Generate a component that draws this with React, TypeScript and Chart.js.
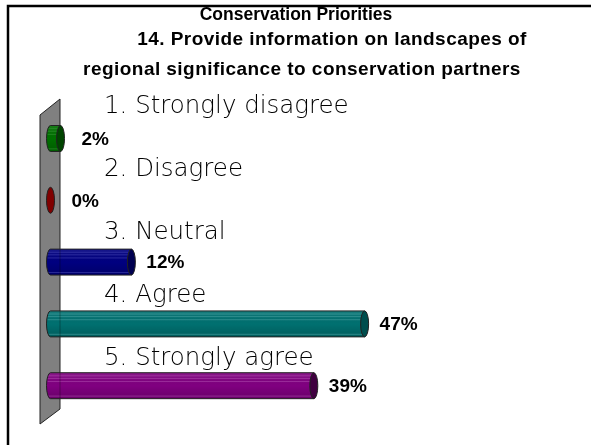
import React, { useEffect, useRef } from "react";
import { Chart, registerables } from "chart.js";

Chart.register(...registerables);

const categories = ["1. Strongly disagree", "2. Disagree", "3. Neutral", "4. Agree", "5. Strongly agree"];
const percentages = [1.5, 0, 12.1, 47, 39.4];
const bodyColors = ["#007000", "#800000", "#000080", "#007070", "#800080"];
const capColors = ["#004400", "#600000", "#000050", "#004e4e", "#400040"];
const shineColors = ["#3a9a3a", "#a03030", "#4a4ab8", "#50a8a8", "#b050b0"];
const titleLines = [
  { text: "Conservation Priorities", x: 296, y: 15, size: 17.5, spacing: 0 },
  { text: "14. Provide information on landscapes of", x: 332, y: 40, size: 19, spacing: 0.45 },
  { text: "regional significance to conservation partners", x: 302, y: 70, size: 19, spacing: 0.45 },
];

const cylinders = {
  id: "cylinders",
  beforeDatasetsDraw(chart: any) {
    const { ctx } = chart;
    ctx.save();
    ctx.strokeStyle = "#000";
    ctx.lineWidth = 2.5;
    ctx.beginPath();
    ctx.moveTo(8, 445);
    ctx.lineTo(8, 6);
    ctx.lineTo(591, 6);
    ctx.stroke();
    ctx.fillStyle = "#808080";
    ctx.strokeStyle = "#222";
    ctx.lineWidth = 1;
    ctx.beginPath();
    ctx.moveTo(40, 115);
    ctx.lineTo(60, 99);
    ctx.lineTo(60, 409);
    ctx.lineTo(40, 424);
    ctx.closePath();
    ctx.fill();
    ctx.stroke();
    ctx.restore();
  },
  afterDatasetsDraw(chart: any) {
    const { ctx } = chart;
    const meta = chart.getDatasetMeta(0);
    ctx.save();
    meta.data.forEach((bar: any, i: number) => {
      const h = bar.height;
      const top = bar.y - h / 2;
      const rx = 4;
      const hasBody = bar.x > bar.base;
      ctx.lineWidth = 1;
      if (hasBody) {
        // whole body outline: rounded back end + straight sides
        const body = () => {
          ctx.beginPath();
          ctx.ellipse(bar.base, bar.y, rx, h / 2, 0, Math.PI / 2, (Math.PI * 3) / 2);
          ctx.lineTo(bar.x, top);
          ctx.lineTo(bar.x, top + h);
          ctx.closePath();
        };
        body();
        ctx.fillStyle = bodyColors[i];
        ctx.fill();
        const g = ctx.createLinearGradient(0, top, 0, top + h);
        g.addColorStop(0, "rgba(255,255,255,0.10)");
        g.addColorStop(0.5, "rgba(0,0,0,0)");
        g.addColorStop(1, "rgba(0,0,0,0.18)");
        ctx.fillStyle = g;
        ctx.fill();
        [0.12, 0.22, 0.34, 0.9].forEach((f) => {
          ctx.strokeStyle = shineColors[i];
          ctx.globalAlpha = 0.55;
          ctx.beginPath();
          ctx.moveTo(bar.base - 3, top + h * f);
          ctx.lineTo(bar.x, top + h * f);
          ctx.stroke();
        });
        ctx.globalAlpha = 0.3;
        ctx.strokeStyle = "#000";
        ctx.beginPath();
        ctx.moveTo(60, top);
        ctx.lineTo(60, top + h);
        ctx.stroke();
        ctx.globalAlpha = 1;
        body();
        ctx.strokeStyle = "#222";
        ctx.stroke();
      }
      ctx.fillStyle = hasBody ? capColors[i] : bodyColors[i];
      ctx.strokeStyle = "#222";
      ctx.beginPath();
      ctx.ellipse(bar.x, bar.y, rx, h / 2, 0, 0, Math.PI * 2);
      ctx.fill();
      ctx.stroke();
      ctx.fillStyle = "#000";
      ctx.font = "bold 19px 'Liberation Sans'";
      ctx.textAlign = "left";
      ctx.textBaseline = "middle";
      const gap = bar.x - bar.base < 30 ? 21 : 15;
      ctx.fillText(Math.round(percentages[i]) + "%", bar.x + gap, bar.y + 1);
      ctx.font = "200 24.5px 'DejaVu Sans'";
      ctx.fillStyle = "#000";
      ctx.textBaseline = "alphabetic";
      ctx.fillText(chart.data.labels[i], 104, bar.y - 25.5 + i * 1.25);
    });
    ctx.fillStyle = "#000";
    ctx.textAlign = "center";
    ctx.textBaseline = "middle";
    titleLines.forEach((l) => {
      ctx.font = `bold ${l.size}px 'Liberation Sans'`;
      (ctx as any).letterSpacing = `${l.spacing}px`;
      ctx.fillText(l.text, l.x, l.y);
    });
    (ctx as any).letterSpacing = "0px";
    ctx.restore();
  },
};

export default function App() {
  const ref = useRef<HTMLCanvasElement>(null);
  useEffect(() => {
    document.body.style.margin = "0";
    document.body.style.background = "#fff";
    const chart = new Chart(ref.current!, {
      type: "bar",
      data: {
        labels: categories,
        datasets: [
          {
            data: percentages,
            backgroundColor: "rgba(0,0,0,0)",
            borderWidth: 0,
            barPercentage: 0.42,
            categoryPercentage: 1,
          },
        ],
      },
      options: {
        indexAxis: "y",
        animation: false,
        responsive: false,
        layout: { padding: { left: 50.5, top: 107.6, bottom: 28.4, right: 4.5 } },
        plugins: { legend: { display: false }, title: { display: false }, tooltip: { enabled: false } },
        scales: {
          x: { display: false, min: 0, max: 80.2 },
          y: { display: false },
        },
      },
      plugins: [cylinders],
    } as any);
    return () => chart.destroy();
  }, []);
  return <canvas ref={ref} width={591} height={445} style={{ display: "block" }} />;
}
